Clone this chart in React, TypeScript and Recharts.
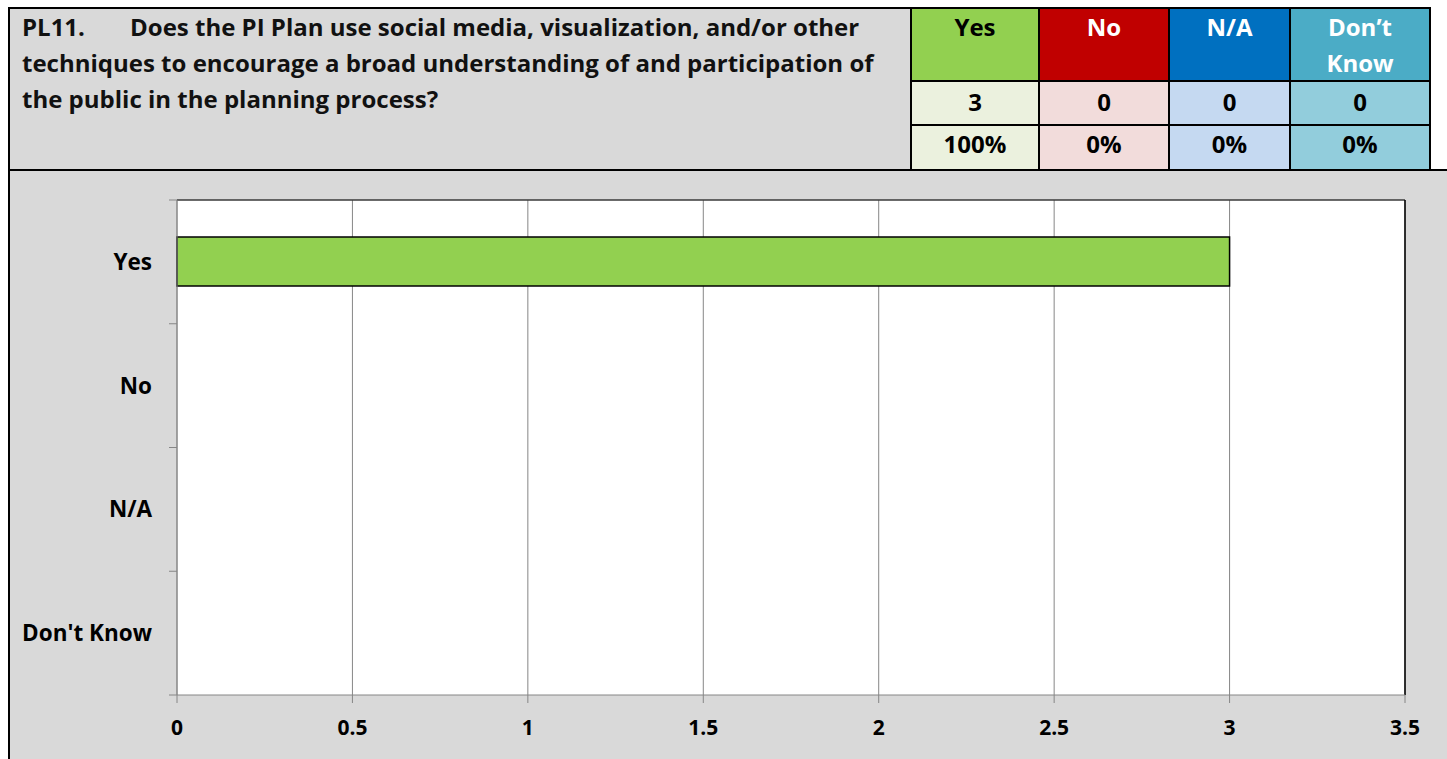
import { BarChart, Bar, XAxis, YAxis, CartesianGrid, usePlotArea } from 'recharts';

const categories = ['Yes', 'No', 'N/A', "Don't Know"];
const counts = [3, 0, 0, 0];
const headerLabels = ['Yes', 'No', 'N/A', 'Don\u2019t Know'];
const percents = ['100%', '0%', '0%', '0%'];
const xTicks = [0, 0.5, 1, 1.5, 2, 2.5, 3, 3.5];

const questionId = 'PL11.';
const questionText =
    'Does the PI Plan use social media, visualization, and/or other techniques to encourage a broad understanding of and participation of the public in the planning process?';

const headerColors = ['#92D050', '#C00000', '#0070C0', '#4BACC6'];
const headerText = ['#000', '#fff', '#fff', '#fff'];
const cellColors = ['#EBF1DE', '#F2DCDB', '#C5D9F1', '#92CDDC'];
const colWidths = [130, 132, 123, 142];

const FONT = '"Open Sans", Lato, sans-serif';
const GRID = '#868686';
const TICK_SIZE = 8;
const TICK_MARGIN = 17;

const data = categories.map((name, i) => ({ name, value: counts[i] }));

function CategoryTick(props: any) {
    const { x, y, payload, index, visibleTicksCount } = props;
    const axisX = x + TICK_SIZE + TICK_MARGIN;
    const off = payload?.offset ?? 0;
    const last = index === visibleTicksCount - 1;
    return (
        <g>
            <line x1={axisX - TICK_SIZE} x2={axisX} y1={y - off} y2={y - off} stroke={GRID} />
            {last && <line x1={axisX - TICK_SIZE} x2={axisX} y1={y + off} y2={y + off} stroke={GRID} />}
            <text x={x} y={y} dy={8} textAnchor="end" fontFamily={FONT} fontWeight={700} fontSize={22.5} fill="#000">
                {payload.value}
            </text>
        </g>
    );
}

function PlotFrame() {
    const area = usePlotArea();
    if (!area) return null;
    const { x, y, width, height } = area;
    return (
        <g>
            <line x1={x} x2={x + width} y1={y} y2={y} stroke="#3a3a3a" strokeWidth={1.5} />
            <line x1={x + width} x2={x + width} y1={y} y2={y + height} stroke="#000" strokeWidth={1.5} />
        </g>
    );
}

export default function App() {
    const border = '2px solid #000';
    return (
        <div style={{ position: 'absolute', left: 0, top: 0, width: 1447, height: 759, background: '#fff', fontFamily: FONT, overflow: 'hidden' }}>
            {/* question + counts table */}
            <div style={{ position: 'absolute', left: 8, top: 7, width: 902, height: 162, background: '#D9D9D9', borderTop: border, borderLeft: border, boxSizing: 'border-box' }}>
                <div style={{ position: 'absolute', left: 12, top: 0, width: 880, fontWeight: 700, fontSize: 24, lineHeight: '36px', color: '#111', whiteSpace: 'pre-wrap', tabSize: '108px' as any }}>
                    {questionId + '\t' + questionText}
                </div>
            </div>
            <div style={{ position: 'absolute', left: 910, top: 7, display: 'flex' }}>
                {headerLabels.map((label, i) => (
                    <div key={label} style={{ width: colWidths[i], boxSizing: 'border-box', border: border, marginLeft: i ? -2 : 0 }}>
                        <div style={{ height: 71, background: headerColors[i], color: headerText[i], fontWeight: 700, fontSize: 24, lineHeight: '36px', textAlign: 'center', padding: '0 20px', boxSizing: 'border-box' }}>
                            {label}
                        </div>
                        <div style={{ height: 42, background: cellColors[i], borderTop: border, borderBottom: border, fontWeight: 700, fontSize: 24, lineHeight: '40px', textAlign: 'center' }}>
                            {counts[i]}
                        </div>
                        <div style={{ height: 44, background: cellColors[i], fontWeight: 700, fontSize: 24, lineHeight: '36px', textAlign: 'center' }}>
                            {percents[i]}
                        </div>
                    </div>
                ))}
            </div>
            {/* chart panel */}
            <div style={{ position: 'absolute', left: 8, top: 169, width: 1439, height: 590, background: '#D9D9D9', borderTop: border, borderLeft: border, boxSizing: 'border-box' }} />
            <div style={{ position: 'absolute', left: 8, top: 170 }}>
                <BarChart width={1439} height={589} data={data} layout="vertical" margin={{ top: 30, right: 42, left: 0, bottom: 0 }}>
                    <CartesianGrid horizontal={false} stroke={GRID} fill="#fff" />
                    <XAxis
                        type="number"
                        domain={[0, 3.5]}
                        ticks={xTicks}
                        height={64}
                        tickSize={TICK_SIZE}
                        tickMargin={17}
                        axisLine={{ stroke: GRID }}
                        tickLine={{ stroke: GRID }}
                        tick={{ fill: '#000', fontSize: 21, fontWeight: 700, fontFamily: FONT }}
                    />
                    <YAxis
                        type="category"
                        dataKey="name"
                        width={169}
                        tickSize={TICK_SIZE}
                        tickMargin={TICK_MARGIN}
                        tickLine={false}
                        axisLine={{ stroke: GRID }}
                        tick={<CategoryTick />}
                    />
                    <Bar dataKey="value" fill="#92D050" stroke="#000" strokeWidth={1.5} barSize={49} isAnimationActive={false} />
                    <PlotFrame />
                </BarChart>
            </div>
        </div>
    );
}
